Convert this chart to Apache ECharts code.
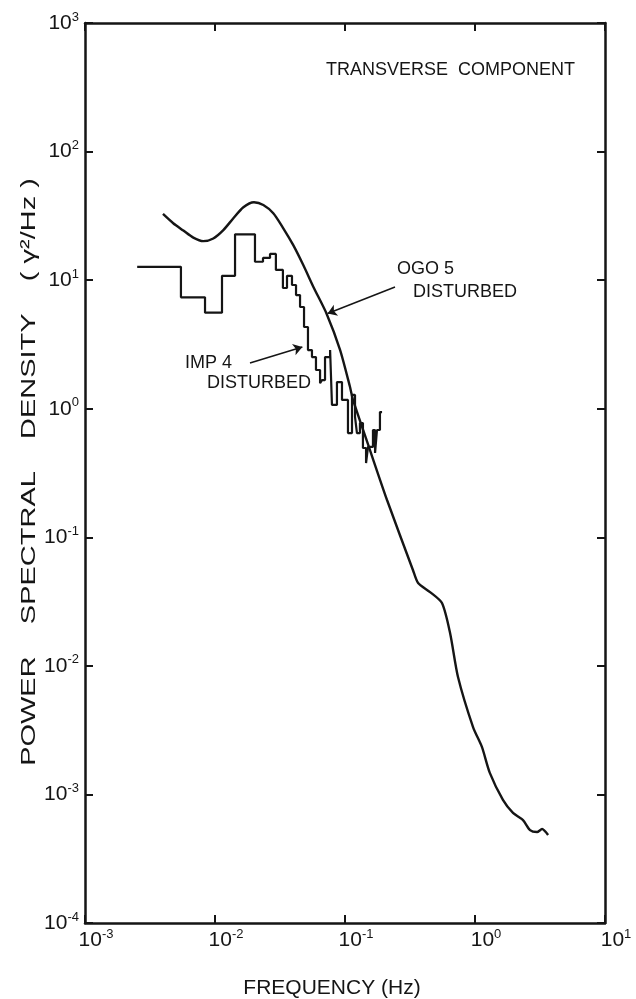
<!DOCTYPE html>
<html>
<head>
<meta charset="utf-8">
<script src="https://cdn.jsdelivr.net/npm/echarts@6/dist/echarts.min.js"></script>
<style>
  html, body { margin: 0; padding: 0; background: #fff; }
  #chart { width: 636px; height: 999px; }
</style>
</head>
<body>
<div id="chart"></div>
<script>
// OGO 5 disturbed (smooth curve)
var ogoFreq = [0.00398, 0.00477, 0.00571, 0.00681, 0.00812, 0.00970, 0.01159, 0.01384, 0.01653, 0.01995,
  0.02354, 0.02808, 0.03352, 0.0400, 0.04775, 0.05702, 0.0723, 0.0916, 0.1092, 0.1153,
  0.1556, 0.2105, 0.333, 0.365, 0.451, 0.557, 0.643, 0.740, 0.966, 1.13,
  1.30, 1.64, 1.96, 2.34, 2.65, 3.00, 3.28, 3.65];
var ogoPsd = [32.7, 27.7, 24.3, 21.4, 20.1, 21.1, 24.5, 30.3, 36.9, 40.3,
  38.4, 33.1, 25.3, 18.7, 13.1, 8.89, 5.46, 2.87, 1.48, 1.17,
  0.477, 0.195, 0.0557, 0.0441, 0.0375, 0.0308, 0.0180, 0.00818, 0.00334, 0.00234,
  0.00147, 0.000906, 0.000718, 0.000632, 0.000528, 0.000510, 0.000538, 0.000483];

// IMP 4 disturbed (histogram): bin left edges and levels, last edge closes the final bin
var impEdges = [0.00252, 0.00547, 0.00838, 0.01132, 0.01426, 0.0203, 0.0234, 0.0265, 0.0294, 0.0333,
  0.0358, 0.0391, 0.0420, 0.0451, 0.0484, 0.0519, 0.0557, 0.0598, 0.0643, 0.0665,
  0.0702, 0.0768, 0.0794, 0.0867, 0.0948, 0.1054, 0.1132, 0.1194, 0.1236, 0.1303,
  0.1374, 0.1452, 0.1503, 0.1641, 0.1703, 0.1762, 0.1857, 0.1928];
var impPsd = [12.7, 7.35, 5.58, 10.8, 22.7, 13.9, 14.9, 16.0, 12.0, 8.69,
  10.8, 9.17, 7.66, 6.18, 4.32, 2.86, 2.52, 2.00, 1.58, 1.67,
  2.52, 2.86, 1.07, 1.61, 1.17, 0.647, 1.28, 0.863, 0.647, 0.774,
  0.495, 0.378, 0.504, 0.683, 0.453, 0.683, 0.942];

var xTickExp = {'-3': '-3', '-2': '-2', '-1': '-1', '0': '0', '1': '1'};
var yTickExp = {'-4': '-4', '-3': '-3', '-2': '-2', '-1': '-1', '0': '0', '1': '1', '2': '2', '3': '3'};

var INK = '#151515';
var FONT = 'Liberation Sans';

var ogoData = ogoFreq.map(function (f, i) { return [f, ogoPsd[i]]; });
var impData = impPsd.map(function (p, i) { return [impEdges[i], p]; });
impData.push([impEdges[impEdges.length - 1], impPsd[impPsd.length - 1]]);

function powLabel(table) {
  return function (v) {
    var e = String(Math.round(Math.log10(v)));
    return '{b|10}{s|' + (table[e] || e) + '}';
  };
}
var labelRich = {
  b: { fontSize: 21, fontFamily: FONT, color: INK },
  s: { fontSize: 13, fontFamily: FONT, color: INK, padding: [0, 0, 12, 0] }
};

var myChart = echarts.init(document.getElementById('chart'));
var option = {
  animation: false,
  grid: { left: 85, right: 31, top: 23, bottom: 76, containLabel: false, outerBoundsMode: 'none' },
  xAxis: [
    {
      type: 'log', logBase: 10, min: 0.001, max: 10, splitNumber: 4,
      name: 'FREQUENCY (Hz)', nameLocation: 'middle', nameGap: 55,
      nameTextStyle: { fontSize: 21, fontFamily: FONT, color: INK, padding: [0, 26, 0, 0] },
      axisLine: { lineStyle: { color: INK, width: 2.5 } },
      axisTick: { inside: true, length: 8, lineStyle: { color: INK, width: 2 } },
      minorTick: { show: false },
      splitLine: { show: false },
      axisLabel: { margin: 5, formatter: powLabel(xTickExp), rich: labelRich, padding: [0, 0, 0, 22] }
    },
    {
      type: 'log', logBase: 10, min: 0.001, max: 10, splitNumber: 4, position: 'top',
      axisLine: { lineStyle: { color: INK, width: 2.5 } },
      axisTick: { inside: true, length: 8, lineStyle: { color: INK, width: 2 } },
      splitLine: { show: false },
      axisLabel: { show: false }
    }
  ],
  yAxis: [
    {
      type: 'log', logBase: 10, min: 0.0001, max: 1000, splitNumber: 7,
      axisLine: { lineStyle: { color: INK, width: 2.5 } },
      axisTick: { inside: true, length: 8, lineStyle: { color: INK, width: 2 } },
      splitLine: { show: false },
      axisLabel: { margin: 6, formatter: powLabel(yTickExp), rich: labelRich }
    },
    {
      type: 'log', logBase: 10, min: 0.0001, max: 1000, splitNumber: 7, position: 'right',
      axisLine: { lineStyle: { color: INK, width: 2.5 } },
      axisTick: { inside: true, length: 8, lineStyle: { color: INK, width: 2 } },
      splitLine: { show: false },
      axisLabel: { show: false }
    }
  ],
  series: [
    {
      name: 'OGO 5 DISTURBED',
      type: 'line',
      data: ogoData,
      smooth: 0.25,
      showSymbol: false,
      lineStyle: { color: INK, width: 2.4 },
      markLine: {
        silent: true,
        symbol: ['none', 'arrow'],
        symbolSize: 9,
        label: { show: false },
        lineStyle: { color: INK, width: 1.5, type: 'solid' },
        data: [[{ coord: [0.2425, 8.85] }, { coord: [0.0735, 5.5] }]]
      }
    },
    {
      name: 'IMP 4 DISTURBED',
      type: 'line',
      data: impData,
      step: 'end',
      showSymbol: false,
      lineStyle: { color: INK, width: 2.2 },
      markLine: {
        silent: true,
        symbol: ['none', 'arrow'],
        symbolSize: 9,
        label: { show: false },
        lineStyle: { color: INK, width: 1.5, type: 'solid' },
        data: [[{ coord: [0.01858, 2.27] }, { coord: [0.0470, 3.02] }]]
      }
    }
  ],
  graphic: [
    {
      type: 'text', x: 29, y: 472, rotation: Math.PI / 2, scaleX: 1.38,
      style: { text: 'POWER    SPECTRAL    DENSITY    ( \u03b3\u00b2/Hz )', font: '21px "Liberation Sans"', fill: INK, align: 'center', verticalAlign: 'middle' }
    },
    { type: 'text', right: 61, top: 61, style: { text: 'TRANSVERSE  COMPONENT', font: '18px "Liberation Sans"', fill: INK } },
    { type: 'text', left: 397, top: 260, style: { text: 'OGO 5', font: '18px "Liberation Sans"', fill: INK } },
    { type: 'text', left: 413, top: 283, style: { text: 'DISTURBED', font: '18px "Liberation Sans"', fill: INK } },
    { type: 'text', left: 185, top: 354, style: { text: 'IMP 4', font: '18px "Liberation Sans"', fill: INK } },
    { type: 'text', left: 207, top: 374, style: { text: 'DISTURBED', font: '18px "Liberation Sans"', fill: INK } }
  ]
};
myChart.setOption(option);
window.addEventListener('resize', function () {
  myChart.resize();
});
</script>
</body>
</html>
